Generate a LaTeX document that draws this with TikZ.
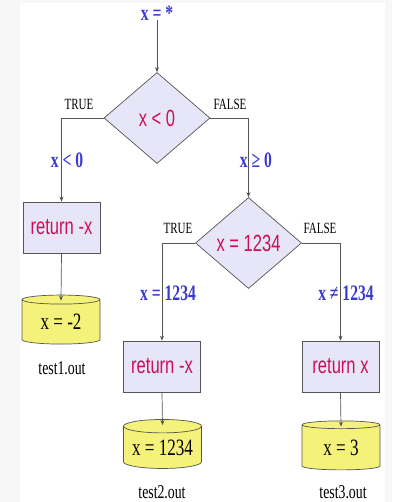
\documentclass[tikz,border=0pt]{standalone}
\usepackage{graphicx}
\usepackage{fontspec}
\setmainfont{Liberation Serif}
\newfontfamily\arialf{Liberation Sans}
\usetikzlibrary{shapes.geometric,arrows.meta,calc}
\definecolor{linec}{HTML}{555555}
\definecolor{boxfill}{HTML}{E6E6F8}
\definecolor{cylfill}{HTML}{F4F27A}
\definecolor{nodetxt}{HTML}{CC1058}
\definecolor{labblue}{HTML}{3A3AD0}
\newcommand{\vstr}[1]{\scalebox{0.92}[1.3]{#1}}
\newcommand{\cstr}[1]{\raisebox{-4pt}{\scalebox{0.95}[1.3]{#1}}}
\tikzset{
  dec/.style={diamond, draw=linec, fill=boxfill, minimum width=106pt, minimum height=91pt,
    inner sep=0pt, font=\arialf\fontsize{18}{18}\selectfont, text=nodetxt, line width=0.7pt},
  proc/.style={rectangle, draw=linec, fill=boxfill, minimum width=77pt, minimum height=51pt,
    inner sep=0pt, font=\arialf\fontsize{18}{18}\selectfont, text=nodetxt, line width=0.7pt},
  store/.style={cylinder, shape border rotate=90, aspect=0.22, draw=linec, fill=cylfill,
    minimum width=78pt, minimum height=49pt, inner sep=0pt,
    font=\fontsize{18}{18}\selectfont, text=black, line width=0.7pt},
  lab/.style={text=labblue, font=\bfseries\fontsize{17}{17}\selectfont, inner sep=0pt},
  tf/.style={text=black, font=\fontsize{12}{12}\selectfont, inner sep=0pt},
  fname/.style={text=black, font=\fontsize{15}{15}\selectfont, inner sep=0pt},
  conn/.style={draw=linec, line width=0.7pt, -{Stealth[length=5pt,width=4pt]}},
}
\begin{document}
\begin{tikzpicture}[x=1pt,y=-1pt]
\fill[black!3] (0,0) rectangle (392,502);
\fill[white] (20,3) rectangle (385,502);
\useasboundingbox (0,0) rectangle (392,502);

\node[lab] (start) at (157,13) {\vstr{x = *}};
\node[dec] (d1) at (157,118) {\vstr{x < 0}};
\node[proc] (b1) at (61.5,227.5) {\vstr{return -x}};
\node[store] (c1) at (61,322) {\cstr{x = -2}};
\node[fname] (f1) at (62,368) {\vstr{test1.out}};

\node[dec] (d2) at (248.5,243) {\vstr{x = 1234}};
\node[proc] (b2) at (162,366.5) {\vstr{return -x}};
\node[store] (c2) at (162.5,447.5) {\cstr{x = 1234}};
\node[fname] (f2) at (162,492) {\vstr{test2.out}};

\node[proc] (b3) at (340.5,366.5) {\vstr{return x}};
\node[store] (c3) at (341,447.5) {\cstr{x = 3}};
\node[fname] (f3) at (343,492) {\vstr{test3.out}};

\node[tf] (t1) at (79,104) {\vstr{TRUE}};
\node[tf] (fa1) at (230,104) {\vstr{FALSE}};
\node[tf] (t2) at (178,228) {\vstr{TRUE}};
\node[tf] (fa2) at (320,228) {\vstr{FALSE}};

\node[lab] (l1) at (67,160) {\vstr{x < 0}};
\node[lab] (l2) at (256,160) {\vstr{x ≥ 0}};
\node[lab] (l3) at (168,293) {\vstr{x = 1234}};
\node[lab] (l4) at (346,293) {\vstr{x ≠ 1234}};

\draw[conn] (start) -- (d1.north);
\draw[conn] (d1.west) -| (b1.north);
\draw[conn] (b1.south) -- ($(c1.north)+(0,6)$);
\draw[conn] (d1.east) -| (d2.north);
\draw[conn] (d2.west) -| (b2.north);
\draw[conn] (d2.east) -| (b3.north);
\draw[conn] (b2.south) -- ($(c2.north)+(0,6)$);
\draw[conn] (b3.south) -- ($(c3.north)+(0,6)$);
\end{tikzpicture}
\end{document}
